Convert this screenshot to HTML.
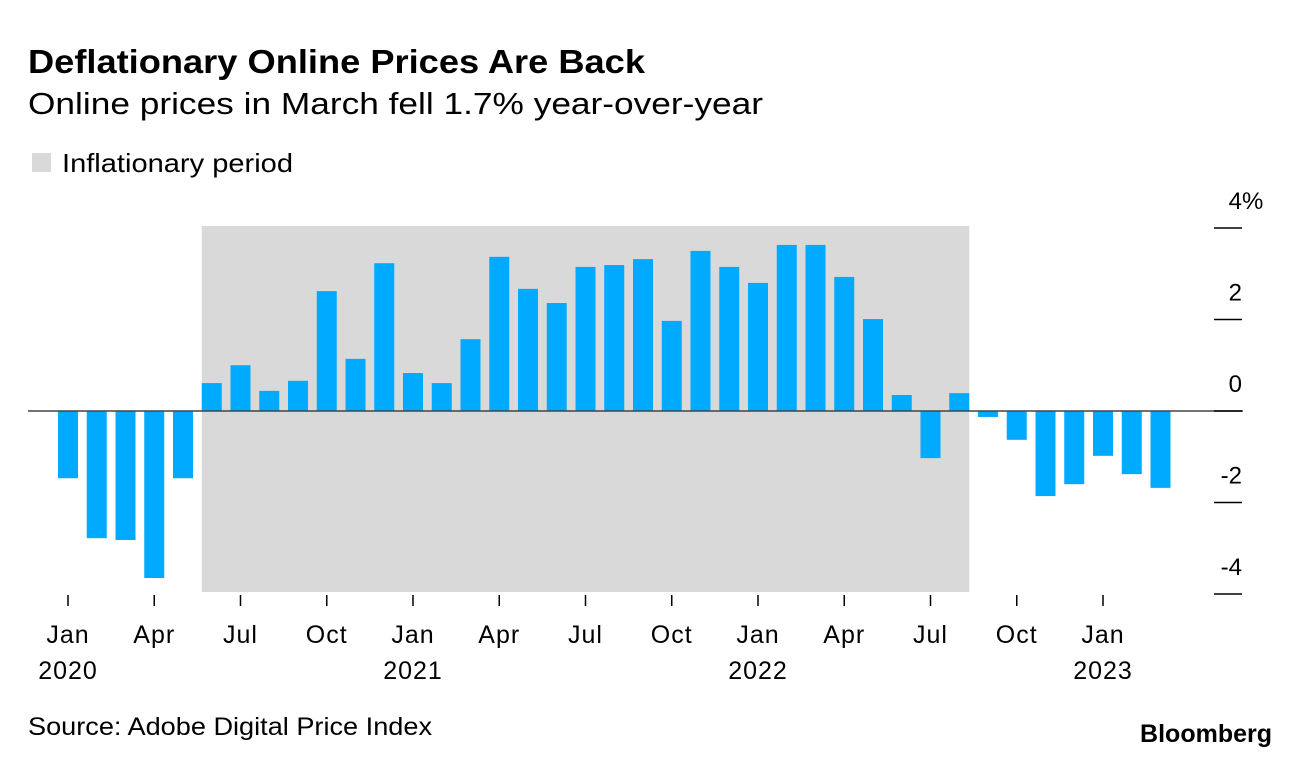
<!DOCTYPE html>
<html><head><meta charset="utf-8"><style>
body{margin:0;background:#fff;width:1296px;height:766px;overflow:hidden;font-family:"Liberation Sans",Arial,sans-serif;}
svg text{font-family:"Liberation Sans",Arial,sans-serif;}
</style></head><body>
<svg id="chart" width="1296" height="766">
<text x="28" y="73" font-size="33" font-weight="bold" fill="#000" textLength="617" lengthAdjust="spacingAndGlyphs">Deflationary Online Prices Are Back</text>
<text x="28" y="114" font-size="31" fill="#000" textLength="735" lengthAdjust="spacingAndGlyphs">Online prices in March fell 1.7% year-over-year</text>
<rect x="32" y="153" width="19" height="19" fill="#d9d9d9"/>
<text x="62" y="172" font-size="26" fill="#000" textLength="231" lengthAdjust="spacingAndGlyphs">Inflationary period</text>
<text x="28" y="735" font-size="25" fill="#000" textLength="404" lengthAdjust="spacingAndGlyphs">Source: Adobe Digital Price Index</text>
<text x="1272" y="742" font-size="25" font-weight="bold" text-anchor="end" fill="#000">Bloomberg</text>
<g id="plot"></g>
</svg>
<script>
const values=[-1.47,-2.78,-2.82,-3.65,-1.47,0.61,1.0,0.44,0.66,2.62,1.14,3.23,0.83,0.61,1.57,3.37,2.67,2.36,3.15,3.19,3.32,1.97,3.5,3.15,2.8,3.63,3.63,2.93,2.01,0.35,-1.03,0.39,-0.13,-0.63,-1.86,-1.6,-0.98,-1.38,-1.68];
const yTicks=[4,2,0,-2,-4];
const yTickLabels=["4","2","0","-2","-4"];
const xTickIdx=[0,3,6,9,12,15,18,21,24,27,30,33,36];
const xTickLabels=["Jan","Apr","Jul","Oct","Jan","Apr","Jul","Oct","Jan","Apr","Jul","Oct","Jan"];
const yearIdx=[0,12,24,36];
const yearLabels=["2020","2021","2022","2023"];
const shadeStart=5, shadeEnd=31;

const NS="http://www.w3.org/2000/svg";
const g=document.getElementById('plot');
const x=i=>68+i*28.75;
const y=v=>411-v*45.75;
const bw=20;
function mk(t,a){const e=document.createElementNS(NS,t);for(const k in a)e.setAttribute(k,a[k]);g.appendChild(e);return e;}
let sh=mk('rect',{x:x(shadeStart)-bw/2,y:226,width:x(shadeEnd)+bw/2-(x(shadeStart)-bw/2),height:366,fill:'#d9d9d9'});


values.forEach((v,i)=>{
 const r=mk('rect',{x:x(i)-bw/2,y:Math.min(y(v),y(0)),width:bw,height:Math.abs(y(v)-y(0)),fill:'#00aaff'});
 
 
});
let zl=mk('line',{x1:28,x2:1243,y1:y(0),y2:y(0),stroke:'#444','stroke-width':1.5});


yTicks.forEach((t,i)=>{
 const l=mk('line',{x1:1214,x2:1242,y1:y(t),y2:y(t),stroke:'#000','stroke-width':1.5});
 
 
 const tx=mk('text',{x:1242,y:y(t)-19,'font-size':24,'text-anchor':'end',fill:'#000'});
 tx.textContent=yTickLabels[i];
 
 
 if(i===0){
  const p=mk('text',{x:1242,y:y(t)-19,'font-size':24,fill:'#000'});
  p.textContent='%';
  
  
 }
});
xTickIdx.forEach((ix,i)=>{
 const l=mk('line',{x1:x(ix),x2:x(ix),y1:595,y2:606,stroke:'#000','stroke-width':1.5});
 
 
 const tx=mk('text',{x:x(ix),y:643,'font-size':25,'text-anchor':'middle',fill:'#000','letter-spacing':'1'});
 tx.textContent=xTickLabels[i];
 
 
});
yearIdx.forEach((ix,i)=>{
 const tx=mk('text',{x:x(ix),y:679,'font-size':25,'text-anchor':'middle',fill:'#000','letter-spacing':'1'});
 tx.textContent=yearLabels[i];
 
 
});
</script>
</body></html>
